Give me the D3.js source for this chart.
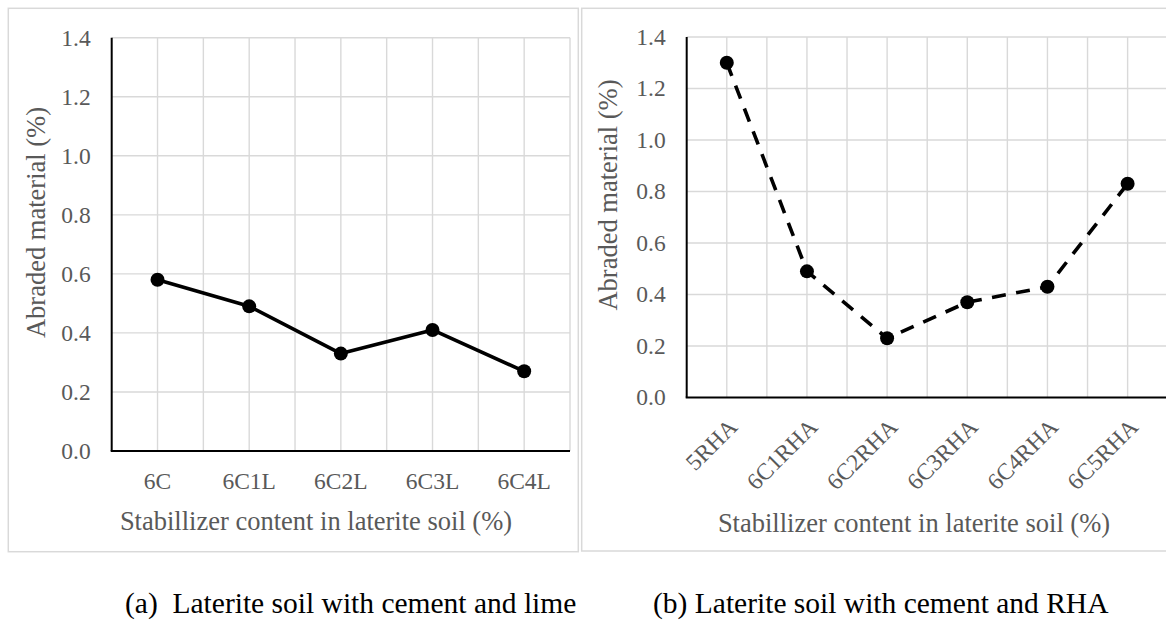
<!DOCTYPE html>
<html>
<head>
<meta charset="utf-8">
<script src="https://cdn.jsdelivr.net/npm/d3@7/dist/d3.min.js"></script>
<style>
  html, body { margin: 0; padding: 0; background: #fff; }
  svg { display: block; }
</style>
</head>
<body>
<svg id="chart" width="1166" height="621"></svg>
<script>
// ---- data ----
const catsA = ["6C", "6C1L", "6C2L", "6C3L", "6C4L"];
const valsA = [0.58, 0.49, 0.33, 0.41, 0.27];
const catsB = ["5RHA", "6C1RHA", "6C2RHA", "6C3RHA", "6C4RHA", "6C5RHA"];
const valsB = [1.30, 0.49, 0.23, 0.37, 0.43, 0.83];
const yTicks = [0, 0.2, 0.4, 0.6, 0.8, 1.0, 1.2, 1.4];
const yTitle = "Abraded material (%)";
const xTitle = "Stabillizer content in laterite soil (%)";
const captionA = "(a)  Laterite soil with cement and lime";
const captionB = "(b) Laterite soil with cement and RHA";

const FONT = "Liberation Serif";
const svg = d3.select("#chart");
const GRID = "#d9d9d9", TXT = "#595959";

function panel(cfg) {
  const g = svg.append("g").attr("font-family", FONT);
  // outer border
  g.append("rect")
    .attr("x", cfg.box[0]).attr("y", cfg.box[1])
    .attr("width", cfg.box[2]).attr("height", cfg.box[3])
    .attr("fill", "#fff").attr("stroke", GRID).attr("stroke-width", 1.5);

  const x = d3.scaleBand().domain(cfg.cats).range(cfg.xr).padding(0);
  const y = d3.scaleLinear().domain([0, 1.4]).range(cfg.yr);

  // horizontal gridlines
  g.selectAll(".hg").data(yTicks.filter(d => d > 0)).join("line")
    .attr("x1", cfg.xr[0]).attr("x2", cfg.xr[1])
    .attr("y1", d => y(d)).attr("y2", d => y(d))
    .attr("stroke", GRID).attr("stroke-width", 1.4);
  // vertical gridlines: band edges and centers
  const vx = [];
  cfg.cats.forEach(c => { vx.push(x(c) + x.bandwidth() / 2); vx.push(x(c) + x.bandwidth()); });
  g.selectAll(".vg").data(vx).join("line")
    .attr("x1", d => d).attr("x2", d => d)
    .attr("y1", y(1.4)).attr("y2", y(0))
    .attr("stroke", GRID).attr("stroke-width", 1.4);

  // axes lines
  g.append("line").attr("x1", cfg.xr[0]).attr("x2", cfg.xr[0])
    .attr("y1", y(1.4)).attr("y2", y(0)).attr("stroke", "#000").attr("stroke-width", 2);
  g.append("line").attr("x1", cfg.xr[0] - 1).attr("x2", cfg.xr[1])
    .attr("y1", y(0)).attr("y2", y(0)).attr("stroke", "#000").attr("stroke-width", 2);

  // y tick labels
  g.selectAll(".yt").data(yTicks).join("text")
    .attr("x", cfg.xr[0] - 21).attr("y", d => y(d))
    .attr("dy", "0.34em")
    .attr("text-anchor", "end").attr("fill", TXT).attr("font-size", 23.5)
    .text(d => d.toFixed(1));

  // x tick labels
  if (cfg.rotate) {
    g.selectAll(".xt").data(cfg.cats).join("text")
      .attr("transform", d => `translate(${x(d) + x.bandwidth() / 2 + 1},${y(0) + 20}) rotate(-45)`)
      .attr("text-anchor", "end").attr("dy", "0.66em")
      .attr("fill", TXT).attr("font-size", 23.5)
      .text(d => d);
  } else {
    g.selectAll(".xt").data(cfg.cats).join("text")
      .attr("x", d => x(d) + x.bandwidth() / 2).attr("y", y(0) + 38)
      .attr("text-anchor", "middle").attr("fill", TXT).attr("font-size", 23.5)
      .text(d => d);
  }

  // axis titles
  g.append("text")
    .attr("transform", `translate(${cfg.yTitleX},${cfg.yTitleY}) rotate(-90)`)
    .attr("text-anchor", "middle").attr("fill", TXT).attr("font-size", 26.5)
    .text(yTitle);
  g.append("text")
    .attr("x", cfg.xTitleX).attr("y", cfg.xTitleY)
    .attr("text-anchor", "middle").attr("fill", TXT).attr("font-size", 26.5)
    .text(xTitle);

  // series
  const pts = cfg.cats.map((c, i) => [x(c) + x.bandwidth() / 2, y(cfg.vals[i])]);
  g.append("path").attr("d", d3.line()(pts))
    .attr("fill", "none").attr("stroke", "#000").attr("stroke-width", 3.6)
    .attr("stroke-linejoin", "round")
    .attr("stroke-dasharray", cfg.dash || null);
  g.selectAll(".pt").data(pts).join("circle")
    .attr("cx", d => d[0]).attr("cy", d => d[1]).attr("r", 7)
    .attr("fill", "#000");

  // caption
  svg.append("text")
    .attr("x", cfg.capX).attr("y", 613)
    .attr("font-family", FONT)
    .attr("fill", "#000").attr("font-size", 29.5)
    .style("white-space", "pre")
    .text(cfg.caption);
}

panel({
  box: [8.3, 8.3, 570, 543.4],
  cats: catsA, vals: valsA,
  xr: [111.7, 570], yr: [451, 37.7],
  rotate: false,
  yTitleX: 45, yTitleY: 222.5, xTitleX: 316, xTitleY: 529.5,
  caption: captionA, capX: 125
});
panel({
  box: [581.7, 8.3, 600, 542.7],
  cats: catsB, vals: valsB,
  xr: [686.7, 1167.7], yr: [397.5, 37],
  rotate: true, dash: "14,10.5",
  yTitleX: 617, yTitleY: 195, xTitleX: 914, xTitleY: 531.5,
  caption: captionB, capX: 653
});
</script>
</body>
</html>
